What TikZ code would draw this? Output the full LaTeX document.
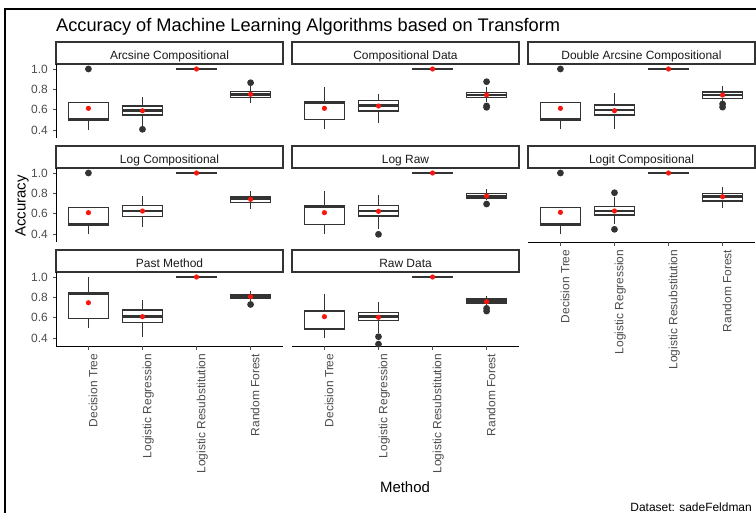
\documentclass[tikz,border=0pt]{standalone}
\usepackage{fontspec}
\setmainfont{Liberation Sans}

\definecolor{boxgray}{HTML}{333333}
\definecolor{labgray}{HTML}{4D4D4D}
\definecolor{stripgray}{HTML}{1A1A1A}
\definecolor{meanred}{HTML}{F8160E}

\tikzset{
  panel/.style 2 args={shift={(#1-21.62,#2+101.7)}, x=54.05bp, y=101.7bp},
  boxline/.style={draw=boxgray, line width=1.1bp},
  medline/.style={draw=boxgray, line width=2.8bp},
  outlier/.style={fill=boxgray},
  meandot/.style={fill=meanred},
  stripbox/.style={draw=boxgray, line width=1.3bp, fill=white},
  striptext/.style={text=stripgray, font=\fontsize{12}{14}\selectfont, inner sep=0pt, anchor=base},
  axisline/.style={draw=black, line width=0.9bp},
  tickline/.style={draw=labgray, line width=0.9bp},
  ticklab/.style={text=labgray, font=\fontsize{12}{14}\selectfont, inner sep=0pt},
  axtitle/.style={text=black, font=\fontsize{15}{18}\selectfont, inner sep=0pt},
}

% box: index, low whisker, q1, median, q3, high whisker, mean
\newcommand\bxp[7]{%
  \draw[boxline] (#1,#2) -- (#1,#3) (#1,#5) -- (#1,#6);
  \filldraw[boxline, fill=white] (#1-0.375,#3) rectangle (#1+0.375,#5);
  \draw[medline] (#1-0.375,#4) -- (#1+0.375,#4);
  \fill[meandot] (#1,#7) circle (2.6bp);}
\newcommand\outl[2]{\fill[outlier] (#1,#2) circle (3.4bp);}
\newcommand\striplab[2]{%
  \draw[stripbox] (0.4,1.049) rectangle (4.6,1.2655);
  \node[striptext] (#1) at (2.5,1.095) {#2};}
\newcommand\leftaxis[1]{%
  \draw[axisline] (0.4,1.049) -- (0.4,0.3215);
  \foreach \v [count=\i] in {0.4,0.6,0.8,1.0}{
    \draw[tickline] (0.4,\v) -- ++(-3.5bp,0pt);
    \node[ticklab, anchor=east] (#1y\i) at ([xshift=-8bp]0.4,\v) {\v};}}
\newcommand\baseaxis[1]{%
  \draw[axisline] (0.4,0.3215) -- (4.6,0.3215);
  \foreach \m [count=\k] in {Decision Tree,Logistic Regression,Logistic Resubstitution,Random Forest}{
    \draw[tickline] (\k,0.3215) -- ++(0pt,-3.5bp);
    \node[ticklab, rotate=90, anchor=north east] (#1x\k) at ([yshift=-7.5bp]\k,0.3215) {\m};}}

\begin{document}
\begin{tikzpicture}[x=1bp, y=-1bp]
\useasboundingbox (0,0) rectangle (756,513);
\fill[white] (0,0) rectangle (756,513);
\draw[line width=2bp] (5,513) -- (5,9) -- (756,9);

\node[text=black, font=\fontsize{18.3}{22}\selectfont, inner sep=0pt, anchor=base west] (title) at (56,31.5)
  {Accuracy of Machine Learning Algorithms based on Transform};

% row 1
\begin{scope}[panel={56}{69}]
  \striplab{arc}{Arcsine Compositional}
  \leftaxis{arc}
  \bxp{1}{0.40}{0.50}{0.50}{0.67}{0.67}{0.613} \outl{1}{1.0}
  \bxp{2}{0.44}{0.548}{0.59}{0.636}{0.72}{0.59} \outl{2}{0.407}
  \bxp{3}{1}{1}{1}{1}{1}{1}
  \bxp{4}{0.663}{0.722}{0.75}{0.777}{0.84}{0.751} \outl{4}{0.865}
\end{scope}
\begin{scope}[panel={292}{69}]
  \striplab{comp}{Compositional Data}
  \bxp{1}{0.407}{0.50}{0.669}{0.669}{0.826}{0.613}
  \bxp{2}{0.472}{0.587}{0.643}{0.688}{0.75}{0.636}
  \bxp{3}{1}{1}{1}{1}{1}{1}
  \bxp{4}{0.68}{0.722}{0.745}{0.767}{0.82}{0.745} \outl{4}{0.875} \outl{4}{0.637} \outl{4}{0.623}
\end{scope}
\begin{scope}[panel={528}{69}]
  \striplab{darc}{Double Arcsine Compositional}
  \bxp{1}{0.41}{0.50}{0.50}{0.669}{0.669}{0.613} \outl{1}{1.0}
  \bxp{2}{0.41}{0.548}{0.597}{0.646}{0.761}{0.59}
  \bxp{3}{1}{1}{1}{1}{1}{1}
  \bxp{4}{0.69}{0.712}{0.745}{0.774}{0.833}{0.744} \outl{4}{0.656} \outl{4}{0.625}
\end{scope}

% row 2
\begin{scope}[panel={56}{173}]
  \striplab{logc}{Log Compositional}
  \leftaxis{logc}
  \bxp{1}{0.40}{0.496}{0.496}{0.663}{0.663}{0.61} \outl{1}{1.0}
  \bxp{2}{0.466}{0.57}{0.626}{0.682}{0.774}{0.626}
  \bxp{3}{1}{1}{1}{1}{1}{1}
  \bxp{4}{0.649}{0.712}{0.752}{0.767}{0.826}{0.741}
\end{scope}
\begin{scope}[panel={292}{173}]
  \striplab{logr}{Log Raw}
  \bxp{1}{0.397}{0.496}{0.669}{0.669}{0.826}{0.61}
  \bxp{2}{0.45}{0.577}{0.626}{0.682}{0.784}{0.623} \outl{2}{0.397}
  \bxp{3}{1}{1}{1}{1}{1}{1}
  \bxp{4}{0.73}{0.751}{0.77}{0.794}{0.84}{0.774} \outl{4}{0.695}
\end{scope}
\begin{scope}[panel={528}{173}]
  \striplab{logit}{Logit Compositional}
  \baseaxis{logit}
  \bxp{1}{0.40}{0.496}{0.496}{0.663}{0.663}{0.613} \outl{1}{1.0}
  \bxp{2}{0.50}{0.587}{0.626}{0.669}{0.76}{0.626} \outl{2}{0.806} \outl{2}{0.446}
  \bxp{3}{1}{1}{1}{1}{1}{1}
  \bxp{4}{0.653}{0.725}{0.767}{0.80}{0.865}{0.767}
\end{scope}

% row 3
\begin{scope}[panel={56}{277}]
  \striplab{past}{Past Method}
  \leftaxis{past}
  \baseaxis{past}
  \bxp{1}{0.496}{0.594}{0.84}{0.84}{1.0}{0.747}
  \bxp{2}{0.407}{0.551}{0.61}{0.676}{0.774}{0.61}
  \bxp{3}{1}{1}{1}{1}{1}{1}
  \bxp{4}{0.76}{0.787}{0.80}{0.823}{0.862}{0.806} \outl{4}{0.73}
\end{scope}
\begin{scope}[panel={292}{277}]
  \striplab{raw}{Raw Data}
  \baseaxis{raw}
  \bxp{1}{0.397}{0.489}{0.666}{0.666}{0.83}{0.61}
  \bxp{2}{0.45}{0.57}{0.61}{0.653}{0.757}{0.604} \outl{2}{0.413} \outl{2}{0.34}
  \bxp{3}{1}{1}{1}{1}{1}{1}
  \bxp{4}{0.72}{0.741}{0.76}{0.784}{0.816}{0.757} \outl{4}{0.692} \outl{4}{0.665}
\end{scope}

\node[axtitle, anchor=base] (xtitle) at (405,492.5) {Method};
\node[axtitle, rotate=90, anchor=base] (ytitle) at (25.5,206) {Accuracy};
\node[text=black, font=\fontsize{12}{14}\selectfont, inner sep=0pt, anchor=base east] (caption) at (752,511)
  {Dataset: sadeFeldman};
\end{tikzpicture}
\end{document}
